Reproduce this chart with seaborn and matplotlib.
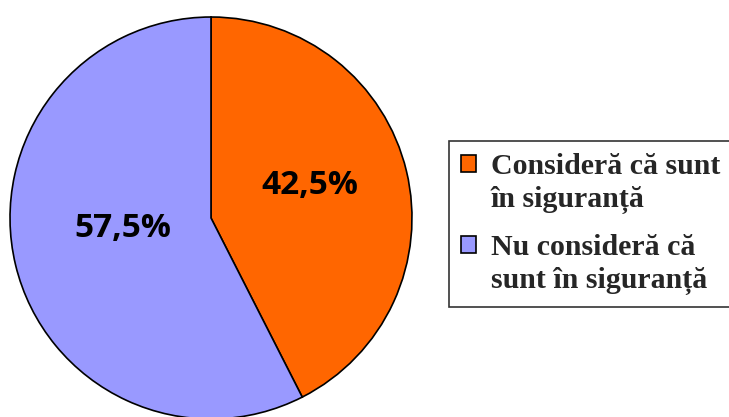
import matplotlib
matplotlib.use("Agg")
import matplotlib.pyplot as plt
import seaborn as sns

# DATA
labels = ["Consideră că sunt\nîn siguranță", "Nu consideră că\nsunt în siguranță"]
values = [42.5, 57.5]
colors = ["#FF6600", "#9999FF"]
# where the percentage labels sit inside the circle (pie units)
label_pos = [(0.49, 0.16), (-0.44, -0.05)]

sns.set_theme(style="white")
plt.rcParams['font.family'] = ['Open Sans', 'DejaVu Sans']

fig = plt.figure(figsize=(7.29, 4.17), dpi=100)
# pie axes placed so the circle sits like in the reference (center ~211,218 px, r ~203 px)
ax = fig.add_axes([8 / 729, -4 / 417, 406 / 729, 406 / 417])

def fmt(p):
    return f"{p:.1f}%".replace(".", ",")

wedges, texts, autotexts = ax.pie(
    values, colors=colors, startangle=90, counterclock=False,
    autopct=fmt, pctdistance=0.49,
    wedgeprops={"edgecolor": "black", "linewidth": 1.2},
    textprops={"fontsize": 24, "fontweight": "bold", "color": "black"},
)
for t, pos in zip(autotexts, label_pos):
    t.set_position(pos)
ax.set_xlim(-1.01, 1.01)
ax.set_ylim(-1.01, 1.01)
ax.set_aspect("equal")

fs = 21.5
leg = fig.legend(
    wedges, labels, loc="center left", bbox_to_anchor=(449 / 729, 193 / 417),
    frameon=True, fancybox=False, edgecolor="black", handlelength=0.5,
    handleheight=0.5, handletextpad=0.5, labelspacing=0.7, borderpad=0.4,
    borderaxespad=0.0,
    prop={"family": "Liberation Serif", "weight": "bold", "size": fs},
)
for t in leg.get_texts():
    t.set_linespacing(1.26)
leg.get_frame().set_linewidth(1.2)
# put the colour squares next to the first line of each entry
for h in leg.legend_handles:
    h.set_edgecolor("black")
    h.set_linewidth(1.2)
    h.set_y(h.get_y() + 0.66 * fs)

fig.savefig("out.png", dpi=100)
